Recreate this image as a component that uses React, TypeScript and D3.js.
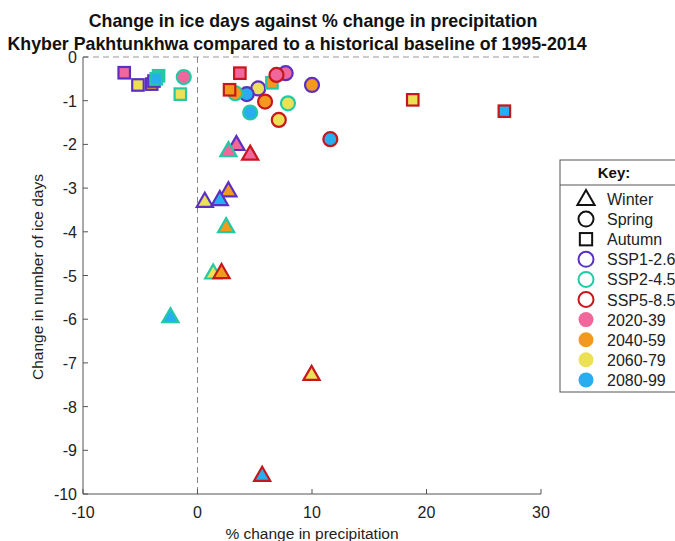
import React from "react";
import * as d3 from "d3";

// Data: one entry per point (order = drawing order)
const precipChange = [
  // SSP1-2.6
  -6.4, 3.4, 7.7, // 2020-39: autumn, winter, spring
  -4.0, 2.7, 10.0, // 2040-59
  -5.2, 0.64, 5.3, // 2060-79
  -3.8, 1.95, 4.3, // 2080-99
  // SSP2-4.5
  -3.4, 2.7, -1.2,
  6.5, 2.5, 3.3,
  -1.5, 1.37, 7.9,
  -3.6, -2.36, 4.6,
  // SSP5-8.5
  3.7, 4.6, 6.9,
  2.8, 2.1, 5.9,
  18.8, 9.96, 7.1,
  26.8, 5.65, 11.6,
];
const iceDaysChange = [
  -0.36, -2.0, -0.37,
  -0.62, -3.06, -0.64,
  -0.64, -3.3, -0.72,
  -0.55, -3.26, -0.85,
  -0.43, -2.14, -0.46,
  -0.59, -3.88, -0.83,
  -0.85, -4.94, -1.06,
  -0.5, -5.94, -1.27,
  -0.37, -2.22, -0.41,
  -0.75, -4.93, -1.02,
  -0.98, -7.26, -1.44,
  -1.24, -9.57, -1.88,
];
const seasonOrder = ["Autumn", "Winter", "Spring"];
const scenarios = ["SSP1-2.6", "SSP2-4.5", "SSP5-8.5"];
const periods = ["2020-39", "2040-59", "2060-79", "2080-99"];
const seasons = ["Winter", "Spring", "Autumn"];
const xTicks = [-10, 0, 10, 20, 30];
const yTicks = [0, -1, -2, -3, -4, -5, -6, -7, -8, -9, -10];

const scenarioColor: Record<string, string> = {
  "SSP1-2.6": "#5b2fc4",
  "SSP2-4.5": "#22c9a4",
  "SSP5-8.5": "#c8161d",
};
const periodColor: Record<string, string> = {
  "2020-39": "#f2679b",
  "2040-59": "#f39a1e",
  "2060-79": "#ece155",
  "2080-99": "#27aef0",
};

const points = precipChange.map((x, i) => ({
  x,
  y: iceDaysChange[i],
  season: seasonOrder[i % 3],
  period: periods[Math.floor(i / 3) % 4],
  scenario: scenarios[Math.floor(i / 12)],
}));

const FONT = "'Liberation Sans', Arial, Helvetica, sans-serif";

function Marker({ kind, cx, cy, fill, stroke, sw, size }: any) {
  if (kind === "Winter") {
    const h = size * 1.0;
    const w = size * 1.15;
    const path = `M${cx},${cy - h * 0.6} L${cx + w / 2},${cy + h * 0.4} L${cx - w / 2},${cy + h * 0.4} Z`;
    return <path d={path} fill={fill} stroke={stroke} strokeWidth={sw} strokeLinejoin="miter" />;
  }
  if (kind === "Autumn") {
    const s = size * 0.82;
    return <rect x={cx - s / 2} y={cy - s / 2} width={s} height={s} fill={fill} stroke={stroke} strokeWidth={sw} />;
  }
  return <circle cx={cx} cy={cy} r={size / 2} fill={fill} stroke={stroke} strokeWidth={sw} />;
}

export default function App() {
  const W = 675, H = 541;
  const x = d3.scaleLinear().domain([-10, 30]).range([83, 541]);
  const y = d3.scaleLinear().domain([-10, 0]).range([494, 57]);
  const axisColor = "#555";

  const legendItems: any[] = [
    ...seasons.map((s) => ({ label: s, kind: s, fill: "none", stroke: "#111", sw: 2 })),
    ...scenarios.map((s) => ({ label: s, kind: "Spring", fill: "none", stroke: scenarioColor[s], sw: 2 })),
    ...periods.map((p) => ({ label: p, kind: "Spring", fill: periodColor[p], stroke: "none", sw: 0 })),
  ];

  return (
    <svg width={W} height={H} style={{ position: "absolute", left: 0, top: 0, background: "#fff" }} fontFamily={FONT}>
      <rect width={W} height={H} fill="#fff" />
      {/* title */}
      <text x={313} y={27} textAnchor="middle" fontSize={17.8} fontWeight="bold" fill="#111">
        Change in ice days against % change in precipitation
      </text>
      <text x={297} y={50} textAnchor="middle" fontSize={17.8} fontWeight="bold" fill="#111">
        Khyber Pakhtunkhwa compared to a historical baseline of 1995-2014
      </text>

      {/* reference lines */}
      <line x1={x(-10)} x2={x(30)} y1={y(0)} y2={y(0)} stroke="#bbb" strokeWidth={1.5} strokeDasharray="6,4" />
      <line x1={x(0)} x2={x(0)} y1={y(0)} y2={y(-10)} stroke="#888" strokeWidth={1} strokeDasharray="6,4" />

      {/* axes */}
      <line x1={x(-10)} x2={x(30)} y1={y(-10)} y2={y(-10)} stroke={axisColor} strokeWidth={1} />
      <line x1={x(-10)} x2={x(-10)} y1={y(0)} y2={y(-10)} stroke={axisColor} strokeWidth={1} />
      {xTicks.map((t) => (
        <g key={"xt" + t}>
          <line x1={x(t)} x2={x(t)} y1={y(-10)} y2={y(-10) - 5} stroke={axisColor} />
          <text x={x(t)} y={y(-10) + 24} textAnchor="middle" fontSize={16} fill="#222">
            {t}
          </text>
        </g>
      ))}
      {yTicks.map((t) => (
        <g key={"yt" + t}>
          <line x1={x(-10)} x2={x(-10) + 5} y1={y(t)} y2={y(t)} stroke={axisColor} />
          <text x={77} y={y(t) + 6} textAnchor="end" fontSize={16} fill="#222">
            {t}
          </text>
        </g>
      ))}
      <text x={312} y={539} textAnchor="middle" fontSize={15.5} fill="#222">
        % change in precipitation
      </text>
      <text transform={`translate(43,277) rotate(-90)`} textAnchor="middle" fontSize={15.5} fill="#222">
        Change in number of ice days
      </text>

      {/* points */}
      {points.map((p, i) => (
        <Marker
          key={i}
          kind={p.season}
          cx={x(p.x)}
          cy={y(p.y)}
          fill={periodColor[p.period]}
          stroke={scenarioColor[p.scenario]}
          sw={2.2}
          size={14}
        />
      ))}

      {/* legend */}
      <g>
        <rect x={560} y={160} width={140} height={232} fill="#fff" stroke="#555" strokeWidth={1} />
        <text x={614} y={178} textAnchor="middle" fontSize={15} fontWeight="bold" fill="#111">
          Key:
        </text>
        <line x1={560} x2={700} y1={185} y2={185} stroke="#555" strokeWidth={1} />
        {legendItems.map((it, i) => {
          const cy = 199 + i * 20.1;
          return (
            <g key={"lg" + i}>
              <Marker kind={it.kind} cx={586} cy={cy} fill={it.fill} stroke={it.stroke} sw={it.sw} size={15} />
              <text x={607} y={cy + 6} fontSize={16} fill="#222">
                {it.label}
              </text>
            </g>
          );
        })}
      </g>
    </svg>
  );
}
